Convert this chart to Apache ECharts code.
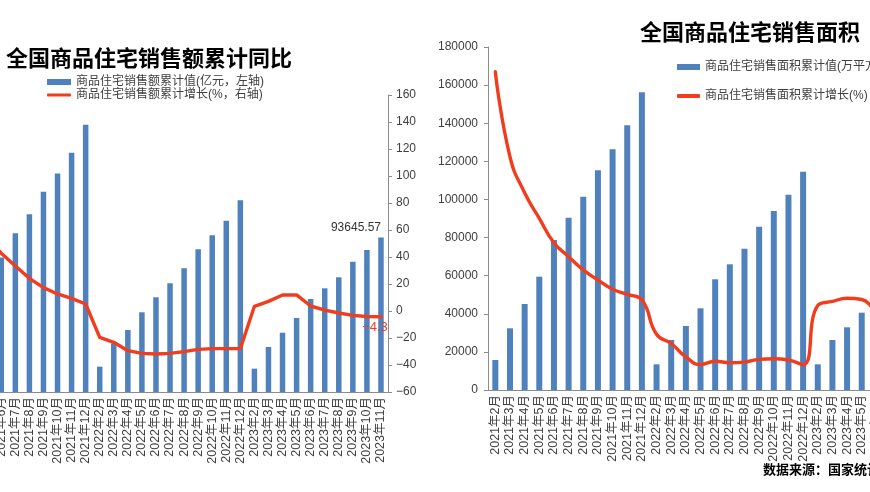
<!DOCTYPE html>
<html>
<head>
<meta charset="utf-8">
<script src="https://cdn.jsdelivr.net/npm/echarts@6/dist/echarts.min.js"></script>
<style>
html,body{margin:0;padding:0;background:#fff;}
#c{width:870px;height:492px;}
</style>
</head>
<body>
<div id="c"></div>
<script>
// ---------- data ----------
const categories = [
  '2021年2月','2021年3月','2021年4月','2021年5月','2021年6月','2021年7月','2021年8月','2021年9月','2021年10月','2021年11月','2021年12月',
  '2022年2月','2022年3月','2022年4月','2022年5月','2022年6月','2022年7月','2022年8月','2022年9月','2022年10月','2022年11月','2022年12月',
  '2023年2月','2023年3月','2023年4月','2023年5月','2023年6月','2023年7月','2023年8月','2023年9月','2023年10月','2023年11月'
];
// 商品住宅销售额累计值 (亿元)
const salesValue = [
  15900, 33200, 48000, 63000, 81500, 96200, 107700, 121400, 132500, 145000, 162000,
  15350, 29500, 37600, 48300, 57400, 65900, 75000, 86500, 95000, 103800, 116200,
  14140, 27270, 35940, 44850, 56360, 62840, 69510, 78970, 86060, 93645.57
];
// 商品住宅销售额累计增长 (%)
const salesGrowth = [
  142, 93, 64, 55, 42.7, 33.3, 24.2, 17.3, 12.6, 9.4, 5.2,
  -19.5, -23.2, -29.4, -31.4, -31.9, -31.4, -30.1, -28.4, -27.9, -27.9, -27.9,
  3.5, 7.1, 11.8, 11.9, 3.7, 0.7, -1.5, -3.2, -4.1, -4.3
];
// 商品住宅销售面积累计值 (万平方米)
const areaValue = [
  15740, 32370, 45130, 59470, 78720, 90430, 101450, 115300, 126320, 138910, 156230,
  13470, 26240, 33590, 42870, 58090, 65960, 74160, 85700, 93940, 102490, 114560,
  13470, 26240, 32900, 40570, 50000, 56000, 63500, 75000, 83500, 91000
];
// 商品住宅销售面积累计增长 (%)
const areaGrowth = [
  108.5, 68.8, 52.0, 40.1, 28.7, 22.2, 16.0, 11.3, 7.0, 4.6, 2.0,
  -14.0, -18.3, -24.6, -28.1, -26.6, -27.3, -27.0, -25.7, -25.4, -26.0, -28.2,
  -0.6, 1.3, 2.8, 2.2, -2.8, -4.3, -5.5, -7.5, -7.8, -8.0
];
// axis ranges [min, max, interval]
const salesGrowthAxis = [-60, 160, 20];
const areaValueAxis = [0, 180000, 20000];

// ---------- chart ----------
const FONT = "'Liberation Sans', 'Noto Sans CJK SC', sans-serif";
const CJK = "'Noto Sans CJK SC', sans-serif";
const blue = '#4f81bd', red = '#f23c1e', axisGray = '#8c8c8c', textGray = '#404040';
const last = categories.length - 1;

const nameSalesV = '商品住宅销售额累计值(亿元，左轴)';
const nameSalesG = '商品住宅销售额累计增长(%，右轴)';
const nameAreaV = '商品住宅销售面积累计值(万平方米)';
const nameAreaG = '商品住宅销售面积累计增长(%)';

const chart = echarts.init(document.getElementById('c'), null, {renderer: 'canvas'});

function xAxisCfg(gi) {
  return {
    type: 'category', gridIndex: gi, data: categories,
    axisLine: {lineStyle: {color: axisGray}},
    axisTick: {interval: 0, length: 4, lineStyle: {color: axisGray}},
    axisLabel: {interval: 0, rotate: 90, margin: 5, fontSize: 12.5, color: textGray, fontFamily: FONT}
  };
}
const legendText = {fontSize: 12, color: textGray, fontFamily: FONT};

chart.setOption({
  animation: false,
  backgroundColor: '#fff',
  textStyle: {fontFamily: FONT},
  title: [
    {text: '全国商品住宅销售额累计同比', left: 6, top: 47, padding: 0,
     textStyle: {fontSize: 22, fontWeight: 'bold', color: '#000', fontFamily: CJK}},
    {text: '全国商品住宅销售面积', left: 640, top: 21, padding: 0,
     textStyle: {fontSize: 22, fontWeight: 'bold', color: '#000', fontFamily: CJK}},
    {text: '数据来源：国家统计局', left: 763, top: 463, padding: 0,
     textStyle: {fontSize: 13, fontWeight: 'bold', color: '#000', fontFamily: CJK}}
  ],
  legend: [
    {left: 47, top: 76, padding: 0, itemWidth: 24, itemHeight: 6, icon: 'rect', selectedMode: false,
     data: [nameSalesV], textStyle: legendText},
    {left: 47, top: 89, padding: 0, itemWidth: 24, itemHeight: 3, icon: 'roundRect', selectedMode: false,
     data: [nameSalesG], textStyle: legendText},
    {left: 677, top: 61, padding: 0, itemWidth: 23, itemHeight: 6, icon: 'rect', selectedMode: false,
     data: [nameAreaV], textStyle: legendText},
    {left: 677, top: 90, padding: 0, itemWidth: 23, itemHeight: 4, icon: 'roundRect', selectedMode: false,
     data: [nameAreaG], textStyle: legendText}
  ],
  grid: [
    {left: -62, top: 95, width: 450, height: 297, containLabel: false, outerBoundsMode: 'none'},
    {left: 488, top: 47, width: 469, height: 343, containLabel: false, outerBoundsMode: 'none'}
  ],
  xAxis: [xAxisCfg(0), xAxisCfg(1)],
  yAxis: [
    {type: 'value', gridIndex: 0, min: 0, max: 180000, show: false},
    {type: 'value', gridIndex: 0, position: 'right',
     min: salesGrowthAxis[0], max: salesGrowthAxis[1], interval: salesGrowthAxis[2],
     axisLine: {show: true, lineStyle: {color: axisGray}},
     axisTick: {show: true, length: 4, lineStyle: {color: axisGray}},
     splitLine: {show: false},
     axisLabel: {fontSize: 12, color: textGray, margin: 8, fontFamily: FONT,
                 formatter: v => String(v).replace('-', '−')}},
    {type: 'value', gridIndex: 1, position: 'left',
     min: areaValueAxis[0], max: areaValueAxis[1], interval: areaValueAxis[2],
     axisLine: {show: true, lineStyle: {color: axisGray}},
     axisTick: {show: true, length: 4, lineStyle: {color: axisGray}},
     splitLine: {show: false},
     axisLabel: {fontSize: 12, color: textGray, margin: 10, fontFamily: FONT,
                 formatter: v => String(v)}},
    {type: 'value', gridIndex: 1, position: 'right', min: -40, max: 120, show: false}
  ],
  series: [
    {type: 'bar', name: nameSalesV, xAxisIndex: 0, yAxisIndex: 0, barWidth: 5.5,
     itemStyle: {color: blue},
     data: salesValue.map((v, i) => i === last
       ? {value: v, label: {show: true, position: 'top', distance: 4, offset: [-25, 0],
                            fontSize: 12, color: '#333', fontFamily: FONT,
                            formatter: p => String(p.value)}}
       : v)},
    {type: 'bar', name: nameAreaV, xAxisIndex: 1, yAxisIndex: 2, barWidth: 6,
     itemStyle: {color: blue}, data: areaValue},
    {type: 'line', name: nameSalesG, xAxisIndex: 0, yAxisIndex: 1,
     symbol: 'circle', symbolSize: 0.1, showSymbol: true, showAllSymbol: true,
     itemStyle: {color: red}, lineStyle: {color: red, width: 3.4, join: 'round', cap: 'round'},
     data: salesGrowth.map((v, i) => i === last
       ? {value: v, label: {show: true, position: 'bottom', distance: 4, offset: [-6, 0],
                            fontSize: 13, color: red, fontFamily: FONT,
                            formatter: p => String(p.value).replace('-', '−')}}
       : v)},
    {type: 'line', name: nameAreaG, xAxisIndex: 1, yAxisIndex: 3, smooth: true,
     symbol: 'none', itemStyle: {color: red},
     lineStyle: {color: red, width: 3.4, cap: 'round'}, data: areaGrowth}
  ]
});
</script>
</body>
</html>
